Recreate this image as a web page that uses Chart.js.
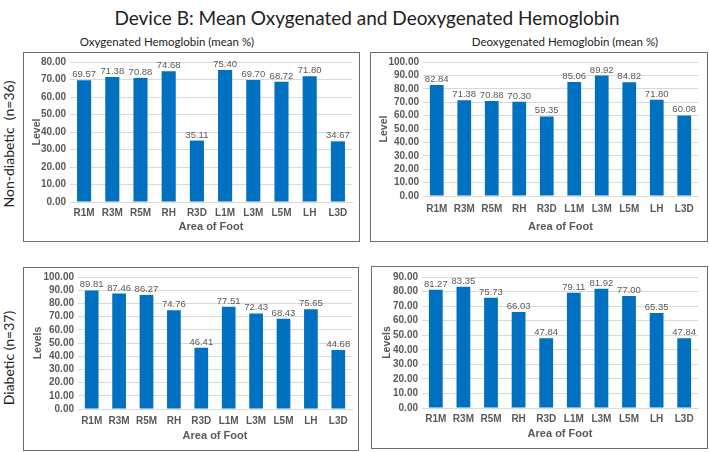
<!DOCTYPE html>
<html>
<head>
<meta charset="utf-8">
<script src="https://cdn.jsdelivr.net/npm/chart.js@4.4.0/dist/chart.umd.min.js"></script>
<style>
    body { margin: 0; background: #fff; width: 709px; height: 452px; position: relative; overflow: hidden; font-family: Lato, 'Open Sans', sans-serif; }
    .box { position: absolute; border: 1px solid #6e6e6e; box-sizing: border-box; }
    canvas { position: absolute; }
    .txt { position: absolute; white-space: pre; color: #222; transform: translate(-50%, -50%); }
    .rot { transform: translate(-50%, -50%) rotate(-90deg); }
</style>
</head>
<body>
<div class="txt" style="left:367px; top:17px; font-size:19px;">Device B: Mean Oxygenated and Deoxygenated Hemoglobin</div>
<div class="txt" style="left:167px; top:41px; font-size:11.5px;">Oxygenated Hemoglobin (mean %)</div>
<div class="txt" style="left:565px; top:41px; font-size:11.5px;">Deoxygenated Hemoglobin (mean %)</div>
<div class="txt rot" style="left:8px; top:144px; font-size:14px;">Non-diabetic  (n=36)</div>
<div class="txt rot" style="left:8px; top:358px; font-size:14px;">Diabetic (n=37)</div>

<div class="box" style="left:23px; top:52px; width:337px; height:190px;"></div>
<div class="box" style="left:370px; top:52px; width:338px; height:190px;"></div>
<div class="box" style="left:23px; top:267px; width:336px; height:184px;"></div>
<div class="box" style="left:371px; top:266px; width:337px; height:183px;"></div>

<canvas id="oxyNon" width="337" height="190" style="left:23px; top:52px;"></canvas>
<canvas id="deoxyNon" width="338" height="190" style="left:370px; top:52px;"></canvas>
<canvas id="oxyDia" width="336" height="184" style="left:23px; top:267px;"></canvas>
<canvas id="deoxyDia" width="337" height="183" style="left:371px; top:266px;"></canvas>

<script>
const categories = ['R1M', 'R3M', 'R5M', 'RH', 'R3D', 'L1M', 'L3M', 'L5M', 'LH', 'L3D'];
const oxyNonDiabetic = [69.57, 71.38, 70.88, 74.68, 35.11, 75.40, 69.70, 68.72, 71.80, 34.67];
const deoxyNonDiabetic = [82.84, 71.38, 70.88, 70.30, 59.35, 85.06, 89.92, 84.82, 71.80, 60.08];
const oxyDiabetic = [89.81, 87.46, 86.27, 74.76, 46.41, 77.51, 72.43, 68.43, 75.65, 44.68];
const deoxyDiabetic = [81.27, 83.35, 75.73, 66.03, 47.84, 79.11, 81.92, 77.00, 65.35, 47.84];

const narrow = "'Liberation Sans Narrow', 'Liberation Sans', Arial, sans-serif";
const grey = '#595959';

// values over the bars
const barValues = {
    id: 'barValues',
    afterDatasetsDraw(chart) {
        const ctx = chart.ctx;
        const ds = chart.data.datasets[0];
        ctx.save();
        ctx.font = '9.5px ' + narrow;
        ctx.fillStyle = grey;
        ctx.textAlign = 'center';
        ctx.textBaseline = 'alphabetic';
        chart.getDatasetMeta(0).data.forEach((bar, i) => {
            ctx.fillText(ds.data[i].toFixed(2), bar.x, bar.y - 3);
        });
        ctx.restore();
    }
};

function makeChart(id, values, yMax, yTitle, g) {
    const el = document.getElementById(id);
    return new Chart(el, {
        type: 'bar',
        data: {
            labels: categories,
            datasets: [{
                data: values,
                backgroundColor: '#0070c0',
                barPercentage: 0.5,
                categoryPercentage: 1
            }]
        },
        options: {
            responsive: false,
            animation: false,
            devicePixelRatio: 1,
            layout: { padding: { left: 0, top: g.top, right: el.width - g.right, bottom: 0 } },
            plugins: { legend: { display: false }, tooltip: { enabled: false } },
            scales: {
                x: {
                    grid: { display: false, drawTicks: false },
                    border: { color: '#d9d9d9' },
                    ticks: { color: grey, padding: g.catPad, autoSkip: false, maxRotation: 0,
                        font: { family: narrow, size: 10, weight: 'bold' } },
                    title: { display: true, text: 'Area of Foot', color: grey, padding: { top: 0, bottom: 8 },
                        font: { family: narrow, size: 11, weight: 'bold' } },
                    afterFit(scale) { scale.height = el.height - g.bottom; }
                },
                y: {
                    min: 0,
                    max: yMax,
                    grid: { color: '#d9d9d9', drawTicks: false },
                    border: { display: false },
                    ticks: { stepSize: 10, color: grey, padding: 4, autoSkip: false,
                        font: { family: narrow, size: 10, weight: 'bold' },
                        callback: v => v.toFixed(2) },
                    title: { display: true, text: yTitle, color: grey, padding: { top: g.titlePad, bottom: 0 },
                        font: { family: narrow, size: 10.5, weight: 'bold' } },
                    afterFit(scale) { scale.width = g.left; }
                }
            }
        },
        plugins: [barValues]
    });
}

makeChart('oxyNon', oxyNonDiabetic, 80, 'Level', { left: 47, right: 329, top: 10, bottom: 150, catPad: 5, titlePad: 8 });
makeChart('deoxyNon', deoxyNonDiabetic, 100, 'Level', { left: 53, right: 328, top: 9, bottom: 144, catPad: 7, titlePad: 8 });
makeChart('oxyDia', oxyDiabetic, 100, 'Levels', { left: 55, right: 329, top: 10, bottom: 142, catPad: 6, titlePad: 9 });
makeChart('deoxyDia', deoxyDiabetic, 90, 'Levels', { left: 51, right: 327, top: 11, bottom: 142, catPad: 5, titlePad: 10 });
</script>
</body>
</html>
